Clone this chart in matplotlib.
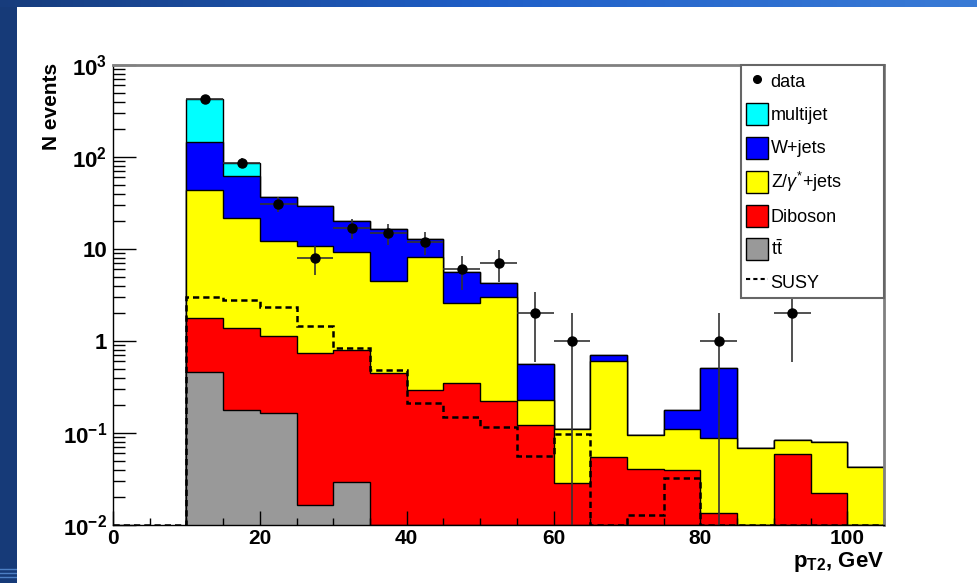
import numpy as np
import matplotlib.pyplot as plt
from matplotlib.patches import Patch
from matplotlib.lines import Line2D
from matplotlib.ticker import LogLocator, NullFormatter
from matplotlib.colors import LinearSegmentedColormap

plt.rcParams['font.family'] = ['Liberation Sans', 'DejaVu Sans']
plt.rcParams['mathtext.fontset'] = 'custom'
plt.rcParams['mathtext.rm'] = 'Liberation Sans'
plt.rcParams['mathtext.it'] = 'Liberation Sans:italic'
plt.rcParams['mathtext.bf'] = 'Liberation Sans:bold'

# pT2 binning (GeV)
edges = np.arange(10, 110, 5)        # stack + data: 10..105
susy_edges = np.arange(0, 110, 5)    # SUSY curve: 0..105

# background contributions per bin (stacked bottom -> top)
ttbar = [0.457, 0.178, 0.166, 0.0165, 0.029, 0, 0, 0, 0, 0,
         0, 0, 0, 0, 0, 0, 0, 0, 0]
diboson = [1.32, 1.22, 0.98, 0.72, 0.77, 0.445, 0.293, 0.347, 0.223, 0.122,
           0.0284, 0.0544, 0.0403, 0.0396, 0.0134, 0, 0.0587, 0.0221, 0]
zjets = [42.0, 20.1, 11.15, 10.07, 8.55, 4.08, 7.97, 2.26, 2.81, 0.106,
         0.082, 0.556, 0.055, 0.070, 0.074, 0.068, 0.025, 0.058, 0.0424]
wjets = [100, 40.7, 24.7, 18.8, 10.85, 11.9, 4.44, 2.97, 1.27, 0.33,
         0, 0.10, 0, 0.068, 0.417, 0, 0, 0, 0]
multijet = [280, 23.2, 0, 0, 0, 0, 0, 0, 0, 0,
            0, 0, 0, 0, 0, 0, 0, 0, 0]
susy = [0, 0, 2.99, 2.79, 2.32, 1.46, 0.83, 0.484, 0.214, 0.148, 0.117,
        0.0567, 0.0968, 0, 0.0128, 0.0327, 0, 0, 0, 0, 0]
data = [424, 87, 31, 8, 17, 15, 12, 6, 7, 2,
        1, 0, 0, 0, 1, 0, 2, 0, 0]

names = ['multijet', 'W+jets', r'Z/$\gamma^{*}$+jets', 'Diboson', r'$\mathrm{t\bar{t}}$']
colors = ['#00ffff', '#0000ff', '#ffff00', '#ff0000', '#999999']

ymin, ymax = 1e-2, 1e3

fig = plt.figure(figsize=(9.78, 5.83), dpi=100)
fig.patch.set_facecolor('white')

# slide decoration (blue bands at top and left)
top = fig.add_axes([0, 1 - 7 / 583, 1, 7 / 583])
grad = np.linspace(0, 1, 256)[None, :]
cm = LinearSegmentedColormap.from_list('slide', ['#173c7c', '#1f5fc8', '#3a7bd6'])
top.imshow(grad, aspect='auto', cmap=cm)
top.axis('off')
left = fig.add_axes([0, 0, 17 / 978, 1 - 7 / 583])
left.set_facecolor('#163a78')
left.set_xlim(0, 1)
left.set_ylim(0, 583)
for yy in [6, 10, 14]:
    left.axhline(yy, color='#4d7fc4', lw=1)
left.set_xticks([])
left.set_yticks([])
for s in left.spines.values():
    s.set_visible(False)

ax = fig.add_axes([113 / 978, 1 - 525 / 583, 771 / 978, 460 / 583])

# stacked histograms, drawn from top of stack downwards (ROOT style)
stack = np.array([ttbar, diboson, zjets, wjets, multijet])
cum = np.cumsum(stack, axis=0)[::-1]
for tops, c in zip(cum, colors):
    tops = np.maximum(tops, ymin)
    ax.stairs(tops, edges, baseline=ymin, fill=True, color=c, lw=0)
    ax.stairs(tops, edges, baseline=ymin, color='black', lw=1.0)

# SUSY signal
ax.stairs(np.maximum(susy, ymin), susy_edges, baseline=ymin, color='black',
          lw=1.8, ls=(0, (2.5, 1.6)))

# data with Poisson errors
data = np.array(data, float)
centers = 0.5 * (edges[:-1] + edges[1:])
m = data > 0
err = np.sqrt(data)
lo = np.maximum(data - err, ymin)
ax.vlines(centers[m], lo[m], (data + err)[m], color='#333333', lw=1.2)
ax.hlines(data[m], edges[:-1][m], edges[1:][m], color='#333333', lw=1.2)
ax.plot(centers[m], data[m], 'o', color='black', ms=6.5)

ax.set_yscale('log')
ax.set_xlim(0, 105)
ax.set_ylim(ymin, ymax)

ax.set_xticks(np.arange(0, 101, 20))
ax.set_xticks(np.arange(0, 106, 5), minor=True)
ax.set_xticklabels(['0', '20', '40', '60', '80', '100'], fontweight='bold', fontsize=15)
ax.set_yticks([1e-2, 1e-1, 1, 10, 1e2, 1e3])
ax.set_yticklabels([r'$\mathbf{10^{-2}}$', r'$\mathbf{10^{-1}}$', '1', '10',
                    r'$\mathbf{10^{2}}$', r'$\mathbf{10^{3}}$'],
                   fontweight='bold', fontsize=16)
ax.yaxis.set_minor_locator(LogLocator(base=10, subs=np.arange(2, 10)))
ax.yaxis.set_minor_formatter(NullFormatter())
ax.tick_params(axis='x', which='major', direction='in', length=10, width=1, top=False, pad=3)
ax.tick_params(axis='x', which='minor', direction='in', length=5, width=1, top=False)
ax.tick_params(axis='y', which='major', direction='in', length=16.5, width=1, right=False, pad=4)
ax.tick_params(axis='y', which='minor', direction='in', length=8.3, width=1, right=False)

for s in ['top', 'right']:
    ax.spines[s].set_color('#808080')
    ax.spines[s].set_linewidth(2)
for s in ['left', 'bottom']:
    ax.spines[s].set_color('black')
    ax.spines[s].set_linewidth(1)

ax.text(-0.080, 1.004, 'N events', transform=ax.transAxes, rotation=90,
        ha='center', va='top', fontsize=15, fontweight='bold')
ax.text(1.0, -0.0913, r'$\mathbf{p}_{\mathbf{T2}}$, GeV', transform=ax.transAxes,
        ha='right', va='baseline', fontsize=16, fontweight='bold')

handles = [Line2D([], [], ls='none', marker='o', color='black', ms=5.5)]
handles += [Patch(facecolor=c, edgecolor='black', lw=1) for c in colors]
handles += [Line2D([], [], color='black', lw=1.5, ls=(0, (2, 1.5)))]
labels = ['data'] + names + ['SUSY']
leg = ax.legend(handles, labels, loc='upper left', mode='expand',
                bbox_to_anchor=(628 / 771, 0, 143 / 771, 1.0), borderaxespad=0,
                fontsize=13, handlelength=1.22, handleheight=1.5,
                handletextpad=0.12, labelspacing=0.61, borderpad=0.3,
                fancybox=False, framealpha=1, edgecolor='#666666')
leg.get_frame().set_linewidth(1.5)

fig.savefig('out.png', dpi=100)
